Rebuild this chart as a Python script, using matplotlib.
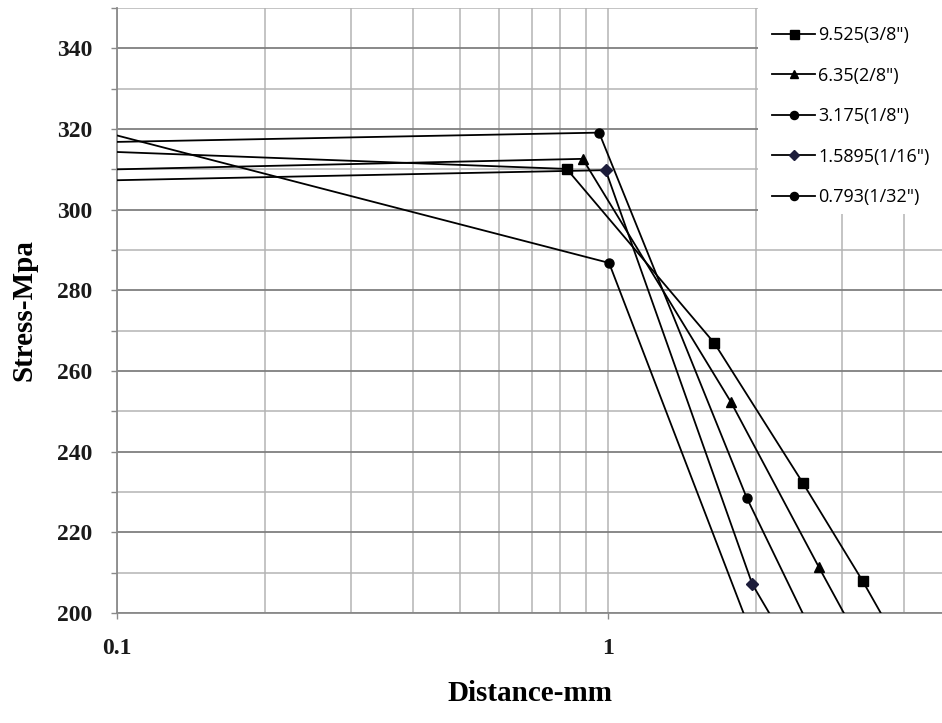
import matplotlib
matplotlib.use("Agg")
import matplotlib.pyplot as plt
import matplotlib.ticker as mtick
from matplotlib.patches import Rectangle

# distance (mm) and stress (MPa) for each sheet thickness
labels = ['9.525(3/8")', '6.35(2/8")', '3.175(1/8")', '1.5895(1/16")', '0.793(1/32")']

dist_9525 = [0.1, 0.824, 1.647, 2.492, 3.302, 4.0]
stress_9525 = [314.3, 310.1, 266.9, 232.3, 207.9, 190.0]

dist_635 = [0.1, 0.888, 1.778, 2.690, 3.35]
stress_635 = [310.0, 312.6, 252.4, 211.3, 190.0]

dist_3175 = [0.1, 0.959, 1.916, 2.73]
stress_3175 = [316.8, 319.1, 228.6, 190.0]

dist_15895 = [0.1, 0.989, 1.968, 2.38]
stress_15895 = [307.3, 309.8, 207.1, 190.0]

dist_0793 = [0.1, 1.005, 2.03]
stress_0793 = [318.4, 286.8, 190.0]

W, H = 942, 723
fig = plt.figure(figsize=(W / 100, H / 100), dpi=100)
ax = fig.add_axes([117 / W, 1 - 613 / H, (W - 117) / W, (613 - 8) / H])

ax.set_xscale('log')
ax.set_xlim(0.1, 0.1 * 10 ** ((W - 117) / 491))
ax.set_ylim(200, 350)

series = [
    (dist_9525, stress_9525, 's', 7.2, 'black'),
    (dist_635, stress_635, '^', 7.0, 'black'),
    (dist_3175, stress_3175, 'o', 6.5, 'black'),
    (dist_15895, stress_15895, 'D', 6.0, '#1c1c3a'),
    (dist_0793, stress_0793, 'o', 6.5, 'black'),
]
for (x, y, m, ms, mc), lab in zip(series, labels):
    # no marker on the point sitting at the left axis
    ax.plot(x, y, color='black', lw=1.3, marker=m, ms=ms, mfc=mc, mec=mc,
            markevery=list(range(1, len(x))), label=lab, zorder=3)

# grid
ax.set_axisbelow(True)
ax.yaxis.set_major_locator(mtick.MultipleLocator(20))
ax.yaxis.set_minor_locator(mtick.MultipleLocator(10))
ax.xaxis.set_major_locator(mtick.LogLocator(base=10))
ax.xaxis.set_minor_locator(mtick.LogLocator(base=10, subs=range(2, 10)))
ax.xaxis.set_major_formatter(mtick.FuncFormatter(lambda v, p: f'{v:g}'))
ax.xaxis.set_minor_formatter(mtick.NullFormatter())
ax.grid(axis='y', which='major', color='#7f7f7f', lw=1.3)
ax.grid(axis='y', which='minor', color='#b4b4b4', lw=1.1)
ax.grid(axis='x', which='both', color='#b4b4b4', lw=1.1)

for s in ['top', 'right']:
    ax.spines[s].set_visible(False)
for s in ['left', 'bottom']:
    ax.spines[s].set_color('#8a8a8a')
    ax.spines[s].set_linewidth(1.3)

ax.tick_params(axis='both', which='both', colors='#8a8a8a', length=4, width=1)
ax.tick_params(axis='x', which='minor', length=0)
ax.tick_params(axis='y', which='both', pad=14)
ax.tick_params(axis='x', which='major', pad=14)
for t in ax.get_xticklabels() + ax.get_yticklabels():
    t.set_fontfamily('Liberation Serif')
    t.set_fontweight('bold')
    t.set_fontsize(17)
    t.set_color('#1a1a1a')

ax.set_xlabel('Distance-mm', fontfamily='Liberation Serif', fontweight='bold',
              fontsize=21, labelpad=15)
ax.set_ylabel('Stress-Mpa', fontfamily='Liberation Serif', fontweight='bold',
              fontsize=21, labelpad=14)

# white box behind the legend hides the grid there
ax.add_patch(Rectangle((758 / W, 1 - 214 / H), (W - 758) / W, 214 / H,
                       transform=fig.transFigure, facecolor='white',
                       edgecolor='none', zorder=1))

leg = fig.legend(loc='upper left', bbox_to_anchor=(772 / W, 1 - 26 / H),
                 frameon=False, borderpad=0, borderaxespad=0,
                 handlelength=2.4, handletextpad=0.15, labelspacing=1.25,
                 prop={'family': 'Open Sans', 'size': 13})
for h in leg.legend_handles:
    h.set_markersize(h.get_markersize() * 0.9)

fig.savefig('out.png', dpi=100)
